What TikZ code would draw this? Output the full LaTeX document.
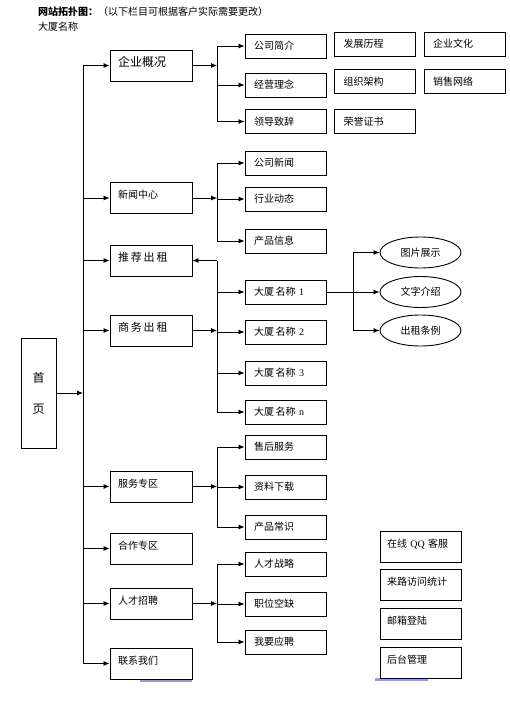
\documentclass[tikz,border=0pt]{standalone}
\usepackage{fontspec}
\setmainfont{Liberation Serif}
\newfontfamily\cjk{Noto Sans CJK SC}
\usetikzlibrary{arrows.meta,shapes.geometric}
\begin{document}
\begin{tikzpicture}[x=1pt,y=-1pt,
  cfont/.style={font=\cjk\fontsize{10}{12}\selectfont},
  lvtwo/.style={draw, line width=0.9pt, minimum height=31pt, inner xsep=8pt, text width=66pt, align=left, cfont, text height=8pt, text depth=6.6pt},
  lvthree/.style={draw, line width=0.9pt, minimum height=24pt, inner xsep=9pt, text width=63pt, align=left, cfont, text height=8pt, text depth=0.5pt},
  rbox/.style={draw, line width=0.9pt, minimum height=31pt, inner xsep=7pt, text width=67pt, align=left, cfont, text height=8pt, text depth=6.6pt},
  ell/.style={ellipse, draw, line width=0.9pt, minimum width=81pt, minimum height=31pt, inner sep=0pt, cfont},
  arr/.style={-{Latex[length=6pt,width=5pt]}, line width=0.8pt},
  conn/.style={line width=0.8pt}]
\useasboundingbox (0,0) rectangle (510,702);
% header
\node[anchor=west, inner sep=0pt, cfont] (title) at (38,12) {{\bfseries 网站拓扑图：}（以下栏目可根据客户实际需要更改）};
\node[anchor=west, inner sep=0pt, cfont] (sub) at (38,27) {大厦名称};
% home
\node[draw, line width=0.9pt, minimum width=35pt, minimum height=110pt, inner sep=0pt, align=center, font=\cjk\fontsize{12}{14}\selectfont] (home) at (38.5,393) {首\\[17pt]页};
% level 2
\node[lvtwo, font=\cjk\fontsize{12}{14}\selectfont, text depth=5.2pt] (n1) at (151,65.5) {企业概况};
\node[lvtwo] (n2) at (151,198) {新闻中心};
\node[lvtwo, font=\cjk\fontsize{11}{13}\selectfont] (n3) at (151,260.5) {推\,荐\,出\,租};
\node[lvtwo, font=\cjk\fontsize{11}{13}\selectfont] (n4) at (151,330.5) {商\,务\,出\,租};
\node[lvtwo] (n5) at (151,486.5) {服务专区};
\node[lvtwo] (n6) at (151,548.5) {合作专区};
\node[lvtwo] (n7) at (151,603.5) {人才招聘};
\node[lvtwo] (n8) at (151,663.5) {联系我们};
% level 3
\node[lvthree] (a1) at (285.5,46) {公司简介};
\node[lvthree] (a2) at (285.5,85) {经营理念};
\node[lvthree] (a3) at (285.5,121.5) {领导致辞};
\node[lvthree] (b1) at (375,44) {发展历程};
\node[lvthree] (b2) at (464.5,44) {企业文化};
\node[lvthree] (b3) at (375,81.5) {组织架构};
\node[lvthree] (b4) at (464.5,81.5) {销售网络};
\node[lvthree] (b5) at (375,121.5) {荣誉证书};
\node[lvthree] (c1) at (285.5,163) {公司新闻};
\node[lvthree] (c2) at (285.5,199) {行业动态};
\node[lvthree] (c3) at (285.5,241) {产品信息};
\node[lvthree] (d1) at (285.5,292) {大厦\,名称 {\rmfamily 1}};
\node[lvthree] (d2) at (285.5,332) {大厦\,名称 {\rmfamily 2}};
\node[lvthree] (d3) at (285.5,373) {大厦\,名称 {\rmfamily 3}};
\node[lvthree] (d4) at (285.5,412) {大厦\,名称 {\rmfamily n}};
\node[lvthree] (e1) at (285.5,447) {售后服务};
\node[lvthree] (e2) at (285.5,487) {资料下载};
\node[lvthree] (e3) at (285.5,527) {产品常识};
\node[lvthree] (f1) at (285.5,564) {人才战略};
\node[lvthree] (f2) at (285.5,604) {职位空缺};
\node[lvthree] (f3) at (285.5,642) {我要应聘};
% ellipses
\node[ell] (g1) at (420.5,252.5) {图片展示};
\node[ell] (g2) at (420.5,292) {文字介绍};
\node[ell] (g3) at (420.5,330.5) {出租条例};
% right boxes
\node[rbox] (r1) at (420.5,546.5) {在线 {\rmfamily QQ} 客服};
\node[rbox] (r2) at (420.5,585) {来路访问统计};
\node[rbox] (r3) at (420.5,624) {邮箱登陆};
\node[rbox] (r4) at (420.5,663) {后台管理};
% bracket coordinates
\coordinate (mx) at (83,0);
\coordinate (bx) at (217,0);
\coordinate (ex) at (353,0);
% main trunk
\draw[conn] (mx |- n1) -- (mx |- n8);
\foreach \t in {n1,n2,n3,n4,n5,n6,n7,n8} \draw[arr] (mx |- \t) -- (\t.west);
\draw[arr] (home.east) -- (mx |- home);
% 企业概况
\draw[arr] (n1.east) -- (bx |- n1);
\draw[conn] (bx |- a1) -- (bx |- a3);
\foreach \t in {a1,a2,a3} \draw[arr] (bx |- \t) -- (\t.west);
% 新闻中心
\draw[arr] (n2.east) -- (bx |- n2);
\draw[conn] (bx |- c1) -- (bx |- c3);
\foreach \t in {c1,c2,c3} \draw[arr] (bx |- \t) -- (\t.west);
% 推荐出租 / 商务出租
\draw[arr] (bx |- n3) -- (n3.east);
\draw[conn] (bx |- n3) -- (bx |- d4);
\draw[arr] (n4.east) -- (bx |- n4);
\foreach \t in {d1,d2,d3,d4} \draw[arr] (bx |- \t) -- (\t.west);
% ellipses
\draw[conn] (d1.east) -- (ex |- d1);
\draw[conn] (ex |- g1) -- (ex |- g3);
\foreach \t in {g1,g2,g3} \draw[arr] (ex |- \t) -- (\t.west);
% 服务专区
\draw[arr] (n5.east) -- (bx |- n5);
\draw[conn] (bx |- e1) -- (bx |- e3);
\foreach \t in {e1,e2,e3} \draw[arr] (bx |- \t) -- (\t.west);
% 人才招聘
\draw[arr] (n7.east) -- (bx |- n7);
\draw[conn] (bx |- f1) -- (bx |- f3);
\foreach \t in {f1,f2,f3} \draw[arr] (bx |- \t) -- (\t.west);
% blue remnants
\fill[blue!60!black, opacity=0.4] (140,679.5) rectangle (192,681.5);
\fill[blue!60!black, opacity=0.4] (375,678) rectangle (428,681);
\end{tikzpicture}
\end{document}
